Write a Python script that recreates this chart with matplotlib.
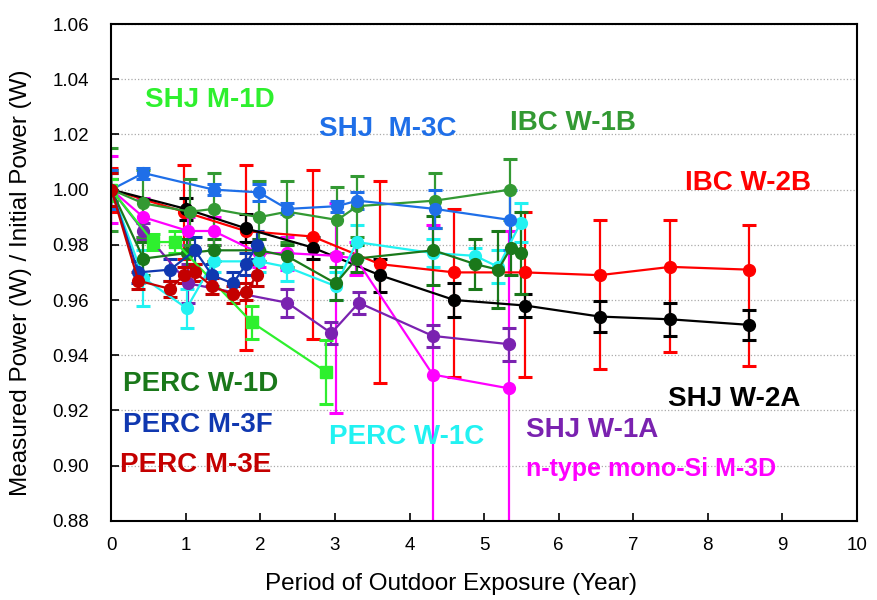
import matplotlib.pyplot as plt

# -------------------------------
# Data
# -------------------------------
# IBC W-2B (red) - asymmetric error bars
ibc_w2b_x = [0, 0.97, 1.8, 2.7, 3.6, 4.6, 5.55, 6.55, 7.5, 8.55]
ibc_w2b_y = [1.000, 0.992, 0.985, 0.983, 0.973, 0.970, 0.970, 0.969, 0.972, 0.971]
ibc_w2b_lo = [0.008, 0.017, 0.043, 0.037, 0.043, 0.038, 0.038, 0.034, 0.031, 0.035]
ibc_w2b_hi = [0.008, 0.017, 0.024, 0.024, 0.030, 0.023, 0.022, 0.020, 0.017, 0.016]

# SHJ W-2A (black)
shj_w2a_x = [0, 1.0, 1.8, 2.7, 3.6, 4.6, 5.55, 6.55, 7.5, 8.55]
shj_w2a_y = [1.000, 0.993, 0.986, 0.979, 0.969, 0.960, 0.958, 0.954, 0.953, 0.951]
shj_w2a_err = [0.004, 0.004, 0.005, 0.004, 0.006, 0.006, 0.004, 0.0055, 0.006, 0.0055]

# n-type mono-Si M-3D (magenta) - asymmetric error bars
mono_m3d_x = [0, 0.43, 1.03, 1.37, 1.98, 2.35, 3.01, 3.28, 4.31, 5.33]
mono_m3d_y = [1.000, 0.990, 0.985, 0.985, 0.977, 0.977, 0.976, 0.975, 0.933, 0.928]
mono_m3d_lo = [0.012, 0.007, 0.005, 0.005, 0.005, 0.006, 0.057, 0.006, 0.054, 0.057]
mono_m3d_hi = [0.012, 0.007, 0.005, 0.005, 0.005, 0.006, 0.019, 0.006, 0.054, 0.057]

# SHJ W-1A (purple)
shj_w1a_x = [0, 0.43, 1.03, 2.36, 2.95, 3.32, 4.31, 5.33]
shj_w1a_y = [1.000, 0.985, 0.966, 0.959, 0.948, 0.959, 0.947, 0.944]
shj_w1a_err = [0.004, 0.003, 0.007, 0.005, 0.004, 0.004, 0.004, 0.006]

# PERC W-1C (cyan)
perc_w1c_x = [0, 0.43, 1.01, 1.37, 1.98, 2.35, 3.01, 3.29, 4.31, 4.88, 5.19, 5.49]
perc_w1c_y = [1.000, 0.968, 0.957, 0.974, 0.974, 0.972, 0.965, 0.981, 0.977, 0.976, 0.972, 0.988]
perc_w1c_err = [0.006, 0.010, 0.007, 0.004, 0.004, 0.005, 0.005, 0.006, 0.005, 0.003, 0.006, 0.007]

# PERC W-1D (dark green)
perc_w1d_x = [0, 0.43, 1.01, 1.37, 1.98, 2.35, 3.01, 3.29, 4.32, 4.88, 5.19, 5.36, 5.49]
perc_w1d_y = [1.000, 0.975, 0.977, 0.978, 0.978, 0.976, 0.966, 0.975, 0.978, 0.973, 0.971, 0.979, 0.977]
perc_w1d_err = [0.007, 0.006, 0.005, 0.004, 0.004, 0.004, 0.006, 0.005, 0.0125, 0.009, 0.014, 0.010, 0.015]

# IBC W-1B (green)
ibc_w1b_x = [0, 0.43, 1.06, 1.37, 1.98, 2.36, 3.03, 3.30, 4.34, 5.35]
ibc_w1b_y = [1.000, 0.995, 0.992, 0.993, 0.990, 0.992, 0.989, 0.994, 0.996, 1.000]
ibc_w1b_err = [0.015, 0.012, 0.012, 0.013, 0.013, 0.011, 0.012, 0.011, 0.010, 0.011]

# SHJ M-3C (blue)
shj_m3c_x = [0, 0.43, 1.37, 1.98, 2.36, 3.03, 3.30, 4.34, 5.35]
shj_m3c_y = [1.000, 1.006, 1.000, 0.999, 0.993, 0.994, 0.996, 0.993, 0.989]
shj_m3c_err = [0.007, 0.002, 0.002, 0.003, 0.002, 0.002, 0.003, 0.007, 0.011]

# SHJ M-1D (lime)
shj_m1d_x = [0, 0.56, 0.86, 1.88, 2.88]
shj_m1d_y = [1.000, 0.981, 0.981, 0.952, 0.934]
shj_m1d_err = [0.004, 0.003, 0.004, 0.006, 0.0115]

# PERC M-3F (dark blue)
perc_m3f_x = [0, 0.36, 0.79, 1.12, 1.35, 1.63, 1.81, 1.95]
perc_m3f_y = [1.000, 0.970, 0.971, 0.978, 0.969, 0.966, 0.973, 0.980]
perc_m3f_err = [0.006, 0.004, 0.004, 0.005, 0.004, 0.004, 0.004, 0.005]

# PERC M-3E (dark red)
perc_m3e_x = [0, 0.36, 0.79, 0.97, 1.12, 1.35, 1.63, 1.81, 1.95]
perc_m3e_y = [1.000, 0.967, 0.964, 0.969, 0.970, 0.965, 0.962, 0.963, 0.969]
perc_m3e_err = [0.006, 0.003, 0.003, 0.003, 0.003, 0.003, 0.003, 0.003, 0.004]

x_ticks = list(range(0, 11))
y_ticks = [0.88, 0.90, 0.92, 0.94, 0.96, 0.98, 1.00, 1.02, 1.04, 1.06]

# -------------------------------
# Plot setup
# -------------------------------
plt.rcParams['font.family'] = ['Liberation Sans', 'DejaVu Sans']

fig = plt.figure(figsize=(8.77, 6), dpi=100)
ax = fig.add_axes([0.127, 0.132, 0.850, 0.828])

# (x, y, yerr, color, marker)
series = [
    (ibc_w2b_x, ibc_w2b_y, [ibc_w2b_lo, ibc_w2b_hi], "#ff0000", "o"),
    (shj_w2a_x, shj_w2a_y, shj_w2a_err, "#000000", "o"),
    (mono_m3d_x, mono_m3d_y, [mono_m3d_lo, mono_m3d_hi], "#ff00ff", "o"),
    (shj_w1a_x, shj_w1a_y, shj_w1a_err, "#7a22b0", "o"),
    (perc_w1c_x, perc_w1c_y, perc_w1c_err, "#22f2f2", "o"),
    (perc_w1d_x, perc_w1d_y, perc_w1d_err, "#1a781a", "o"),
    (ibc_w1b_x, ibc_w1b_y, ibc_w1b_err, "#339933", "o"),
    (shj_m3c_x, shj_m3c_y, shj_m3c_err, "#1f6fe8", "o"),
    (shj_m1d_x, shj_m1d_y, shj_m1d_err, "#2ef02e", "s"),
    (perc_m3f_x, perc_m3f_y, perc_m3f_err, "#1038b0", "o"),
    (perc_m3e_x, perc_m3e_y, perc_m3e_err, "#c40000", "o"),
]

for x, y, err, color, marker in series:
    ax.errorbar(x, y, yerr=err, color=color, marker=marker, markersize=8.5,
                linewidth=1.6, elinewidth=1.6, capsize=5, capthick=2.2)

# -------------------------------
# Labels inside the plot
# -------------------------------
labels = [
    (0.45, 1.0325, "SHJ M-1D", "#2ef02e", 20),
    (2.78, 1.022, "SHJ  M-3C", "#1f6fe8", 20),
    (5.35, 1.024, "IBC W-1B", "#339933", 20),
    (7.70, 1.0025, "IBC W-2B", "#ff0000", 20),
    (7.47, 0.924, "SHJ W-2A", "#000000", 20),
    (0.15, 0.9295, "PERC W-1D", "#1a781a", 20),
    (0.15, 0.9148, "PERC M-3F", "#1038b0", 20),
    (0.12, 0.9002, "PERC M-3E", "#c40000", 20),
    (2.92, 0.9105, "PERC W-1C", "#22f2f2", 20),
    (5.56, 0.9128, "SHJ W-1A", "#7a22b0", 20),
    (5.56, 0.8988, "n-type mono-Si M-3D", "#ff00ff", 18),
]
for tx, ty, text, color, size in labels:
    ax.text(tx, ty, text, color=color, fontsize=size, fontweight="bold",
            ha="left", va="center")

# -------------------------------
# Final formatting
# -------------------------------
ax.set_xlim(0, 10)
ax.set_ylim(0.88, 1.06)
ax.set_xticks(x_ticks)
ax.set_yticks(y_ticks)
ax.set_yticklabels([f"{v:.2f}" for v in y_ticks])
ax.tick_params(direction="in", labelsize=13.5, length=6, width=1.2)
ax.tick_params(axis="x", pad=12)
ax.tick_params(axis="y", pad=16)
ax.yaxis.grid(True, linestyle=":", color="#aaaaaa", linewidth=0.9)
ax.set_axisbelow(True)
for spine in ax.spines.values():
    spine.set_linewidth(1.5)

ax.set_xlabel("Period of Outdoor Exposure (Year)", fontsize=17.5)
ax.set_ylabel("Measured Power (W) / Initial Power (W)", fontsize=17.5)
ax.xaxis.set_label_coords(0.455, -0.105)
ax.yaxis.set_label_coords(-0.107, 0.479)

plt.savefig("out.png", dpi=100)
plt.close()
